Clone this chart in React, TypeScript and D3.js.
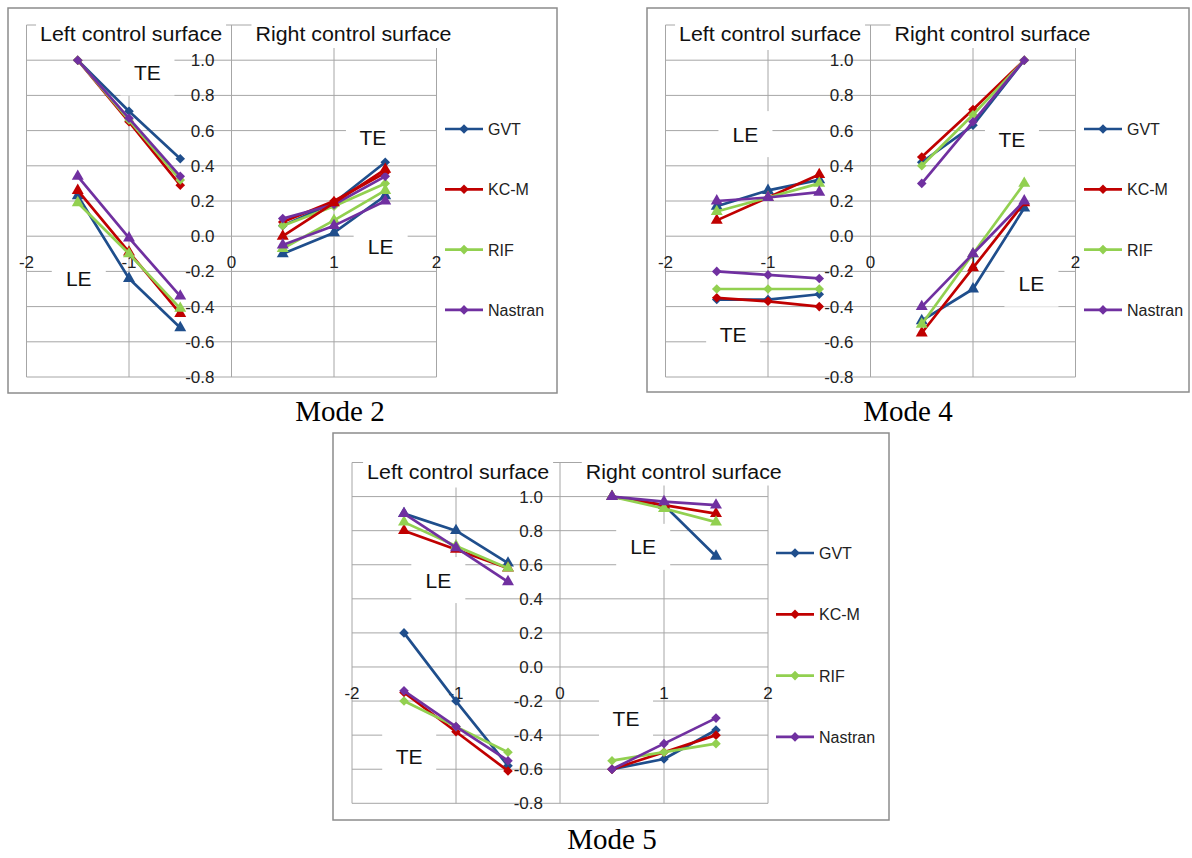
import React from "react";
import * as d3 from "d3";

const seriesNames = ["GVT", "KC-M", "RIF", "Nastran"];
const seriesColors = ["#1F4E8C", "#C00000", "#92D050", "#7030A0"];
const leftX = [-1.5, -1, -0.5];
const rightX = [0.5, 1, 1.5];
const xTicks = [-2, -1, 0, 1, 2];
const yTicks = [-0.8, -0.6, -0.4, -0.2, 0, 0.2, 0.4, 0.6, 0.8, 1.0];
const yGrid = [...yTicks, 1.2];

// rows: GVT, KC-M, RIF, Nastran
const mode2TeLeft = [[1.0, 0.71, 0.44], [1.0, 0.65, 0.29], [1.0, 0.66, 0.32], [1.0, 0.67, 0.34]];
const mode2LeLeft = [[0.23, -0.24, -0.52], [0.26, -0.09, -0.44], [0.19, -0.1, -0.41], [0.34, -0.01, -0.34]];
const mode2TeRight = [[0.06, 0.19, 0.42], [0.08, 0.2, 0.36], [0.06, 0.17, 0.3], [0.1, 0.18, 0.34]];
const mode2LeRight = [[-0.1, 0.02, 0.23], [0.0, 0.19, 0.38], [-0.07, 0.09, 0.26], [-0.05, 0.06, 0.2]];

const mode4TeLeft = [[-0.36, -0.36, -0.33], [-0.35, -0.37, -0.4], [-0.3, -0.3, -0.3], [-0.2, -0.22, -0.24]];
const mode4LeLeft = [[0.17, 0.26, 0.32], [0.09, 0.22, 0.35], [0.14, 0.22, 0.3], [0.2, 0.22, 0.25]];
const mode4TeRight = [[0.42, 0.63, 1.0], [0.45, 0.72, 1.0], [0.4, 0.69, 1.0], [0.3, 0.65, 1.0]];
const mode4LeRight = [[-0.48, -0.3, 0.16], [-0.55, -0.18, 0.19], [-0.5, -0.1, 0.3], [-0.4, -0.1, 0.2]];

const mode5TeLeft = [[0.2, -0.2, -0.58], [-0.15, -0.38, -0.61], [-0.2, -0.35, -0.5], [-0.14, -0.35, -0.55]];
const mode5LeLeft = [[0.9, 0.8, 0.61], [0.8, 0.69, 0.58], [0.85, 0.71, 0.58], [0.9, 0.7, 0.5]];
const mode5TeRight = [[-0.6, -0.54, -0.37], [-0.6, -0.5, -0.4], [-0.55, -0.5, -0.45], [-0.6, -0.45, -0.3]];
const mode5LeRight = [[1.0, 0.95, 0.65], [1.0, 0.95, 0.9], [1.0, 0.93, 0.85], [1.0, 0.97, 0.95]];

const FONT = "'Liberation Sans', Arial, sans-serif";

const diamond = d3.symbol(d3.symbolSquare, 46)();
const triangle = d3.symbol(d3.symbolTriangle, 62)();

type Lbl = { text: string; x: number; y: number };

type PanelProps = {
  box: { x: number; y: number; w: number; h: number };
  xr: [number, number];
  yr: [number, number];
  legend: { x: number; y: number; dy: number };
  te: [number[][], number[][]];
  le: [number[][], number[][]];
  labels: Lbl[];
  caption: { text: string; x: number; y: number };
};

function Panel({ box, xr, yr, legend, te, le, labels, caption }: PanelProps) {
  const x = d3.scaleLinear().domain([-2, 2]).range(xr);
  const y = d3.scaleLinear().domain([-0.8, 1.2]).range(yr);

  const drawGroup = (xs: number[], rows: number[][], marker: string, key: string) =>
    rows.map((row, si) => {
      const l = d3.line<number>().x((_, i) => x(xs[i])).y(d => y(d));
      return (
        <g key={key + si}>
          <path d={l(row) || ""} fill="none" stroke={seriesColors[si]} strokeWidth={2.7} strokeLinejoin="round" />
          {row.map((v, i) => (
            <path key={i} d={marker || ""} fill={seriesColors[si]}
              transform={`translate(${x(xs[i])},${y(v)})${marker === diamond ? " rotate(45)" : ""}`} />
          ))}
        </g>
      );
    });

  const titleY = y(1.2) + 9;
  return (
    <g>
      <rect x={box.x} y={box.y} width={box.w} height={box.h} fill="white" stroke="#8c8c8c" strokeWidth={1.5} />
      {yGrid.map(v => (
        <line key={"h" + v} x1={xr[0]} x2={xr[1]} y1={y(v)} y2={y(v)} stroke="#a6a6a6" strokeWidth={1} />
      ))}
      {xTicks.map(v => (
        <line key={"v" + v} x1={x(v)} x2={x(v)} y1={y(1.2)} y2={y(-0.8)} stroke="#a6a6a6" strokeWidth={1} />
      ))}
      {/* titles */}
      <rect x={x(-0.98) - 95} y={titleY - 22} width={190} height={38} fill="white" />
      <rect x={x(1.19) - 102} y={titleY - 22} width={204} height={36} fill="white" />
      <text x={x(-0.98)} y={titleY + 7} textAnchor="middle" fontFamily={FONT} fontSize={19.5} fill="#111"
        textLength={182} lengthAdjust="spacingAndGlyphs">Left control surface</text>
      <text x={x(1.19)} y={titleY + 7} textAnchor="middle" fontFamily={FONT} fontSize={19.5} fill="#111"
        textLength={196} lengthAdjust="spacingAndGlyphs">Right control surface</text>
      {/* LE / TE labels */}
      {labels.map((lb, i) => (
        <g key={"l" + i}>
          <rect x={x(lb.x) - 27} y={y(lb.y) - 23} width={54} height={46} fill="white" />
          <text x={x(lb.x)} y={y(lb.y) + 7.5} textAnchor="middle" fontFamily={FONT} fontSize={21} fill="#111">{lb.text}</text>
        </g>
      ))}
      {/* tick labels */}
      {yTicks.map(v => (
        <text key={"yt" + v} x={x(0) - 17} y={y(v) + 6} textAnchor="end" fontFamily={FONT} fontSize={17} fill="#222">
          {d3.format(".1f")(v).replace("−", "-")}
        </text>
      ))}
      {xTicks.map(v => (
        <text key={"xt" + v} x={x(v)} y={y(0) + 32} textAnchor="middle" fontFamily={FONT} fontSize={17} fill="#222">
          {String(v)}
        </text>
      ))}
      {/* series */}
      {drawGroup(leftX, te[0], diamond, "tl")}
      {drawGroup(rightX, te[1], diamond, "tr")}
      {drawGroup(leftX, le[0], triangle, "ll")}
      {drawGroup(rightX, le[1], triangle, "lr")}
      {/* legend */}
      {seriesNames.map((n, i) => (
        <g key={"lg" + n} transform={`translate(${legend.x},${legend.y + i * legend.dy})`}>
          <line x1={0} x2={38} y1={0} y2={0} stroke={seriesColors[i]} strokeWidth={2.7} />
          <path d={diamond} fill={seriesColors[i]} transform="translate(19,0) rotate(45)" />
          <text x={43} y={6} fontFamily={FONT} fontSize={16} fill="#222">{n}</text>
        </g>
      ))}
      <text x={caption.x} y={caption.y} textAnchor="middle" fontFamily="'Liberation Serif', 'Times New Roman', serif"
        fontSize={29} fill="#000">{caption.text}</text>
    </g>
  );
}

export default function App() {
  return (
    <svg width={1192} height={858} style={{ position: "absolute", left: 0, top: 0, background: "white" }}>
      <Panel
        box={{ x: 8, y: 8, w: 549, h: 385 }}
        xr={[26.5, 436.5]}
        yr={[377, 25]}
        legend={{ x: 445, y: 129, dy: 60.3 }}
        te={[mode2TeLeft, mode2TeRight]}
        le={[mode2LeLeft, mode2LeRight]}
        labels={[
          { text: "TE", x: -0.82, y: 0.93 },
          { text: "LE", x: -1.49, y: -0.24 },
          { text: "TE", x: 1.38, y: 0.56 },
          { text: "LE", x: 1.455, y: -0.06 },
        ]}
        caption={{ text: "Mode 2", x: 340, y: 421 }}
      />
      <Panel
        box={{ x: 647, y: 8, w: 542, h: 384 }}
        xr={[665.5, 1075.5]}
        yr={[377, 25]}
        legend={{ x: 1084, y: 129, dy: 60.3 }}
        te={[mode4TeLeft, mode4TeRight]}
        le={[mode4LeLeft, mode4LeRight]}
        labels={[
          { text: "LE", x: -1.22, y: 0.58 },
          { text: "TE", x: -1.34, y: -0.56 },
          { text: "TE", x: 1.38, y: 0.55 },
          { text: "LE", x: 1.57, y: -0.27 },
        ]}
        caption={{ text: "Mode 4", x: 908, y: 421 }}
      />
      <Panel
        box={{ x: 333, y: 433, w: 556, h: 387 }}
        xr={[352, 768]}
        yr={[803.3, 462.5]}
        legend={{ x: 776, y: 553, dy: 61.3 }}
        te={[mode5TeLeft, mode5TeRight]}
        le={[mode5LeLeft, mode5LeRight]}
        labels={[
          { text: "LE", x: -1.17, y: 0.51 },
          { text: "TE", x: -1.45, y: -0.525 },
          { text: "LE", x: 0.8, y: 0.705 },
          { text: "TE", x: 0.635, y: -0.3 },
        ]}
        caption={{ text: "Mode 5", x: 612, y: 849 }}
      />
    </svg>
  );
}
